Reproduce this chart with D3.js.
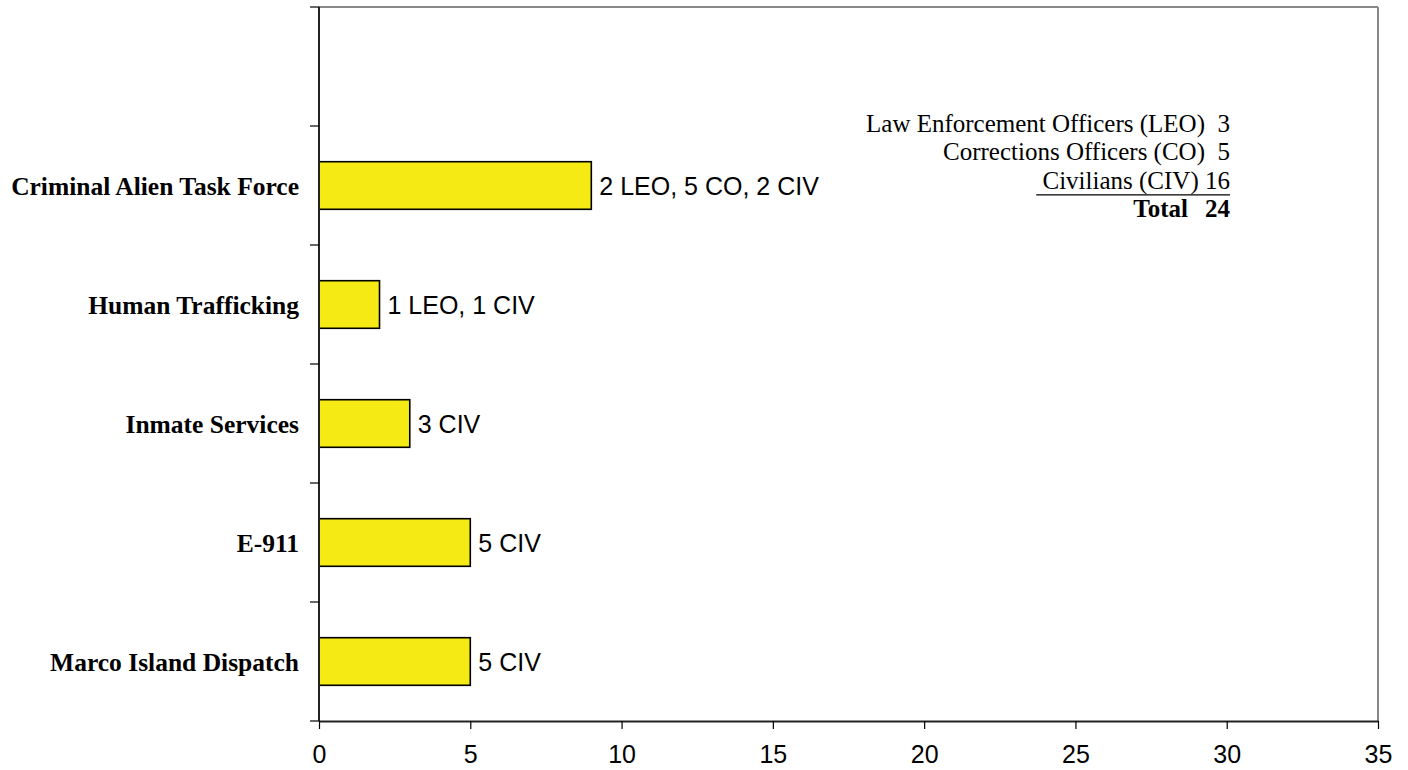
<!DOCTYPE html>
<html><head><meta charset="utf-8">
<script src="https://cdn.jsdelivr.net/npm/d3@7"></script>
<style>body{margin:0;background:#fff}svg{display:block}</style>
</head><body>
<svg id="c" width="1408" height="770"></svg>
<script>
const categories = ["Criminal Alien Task Force","Human Trafficking","Inmate Services","E-911","Marco Island Dispatch"];
const values = [9,2,3,5,5];
const barLabels = ["2 LEO, 5 CO, 2 CIV","1 LEO, 1 CIV","3 CIV","5 CIV","5 CIV"];
const xTicks = [0,5,10,15,20,25,30,35];
const legendLabels = ["Law Enforcement Officers (LEO)","Corrections Officers (CO)","Civilians (CIV)","Total"];
const legendValues = [3,5,16,24];

const svg = d3.select("#c");
const L=319, R=1378, T=7, B=721;
const x = d3.scaleLinear().domain([0,35]).range([L,R]);
const domain = ["__blank__"].concat(categories);
const y = d3.scaleBand().domain(domain).range([T,B]).paddingInner(0.6).paddingOuter(0.3);

// frame top/right
svg.append("line").attr("x1",L).attr("x2",R).attr("y1",T).attr("y2",T).attr("stroke","#888").attr("stroke-width",2);
svg.append("line").attr("x1",R).attr("x2",R).attr("y1",T).attr("y2",B).attr("stroke","#888").attr("stroke-width",2);

// bars
const data = categories.map((c,i)=>({c, v:values[i], lab:barLabels[i]}));
svg.selectAll("rect.bar").data(data).enter().append("rect")
  .attr("x",x(0)).attr("y",d=>y(d.c)).attr("width",d=>x(d.v)-x(0)).attr("height",y.bandwidth())
  .attr("fill","#F5EA14").attr("stroke","#000").attr("stroke-width",1.6);
svg.selectAll("text.bl").data(data).enter().append("text")
  .attr("x",d=>x(d.v)+8).attr("y",d=>y(d.c)+y.bandwidth()/2).attr("dy","0.36em")
  .attr("font-family","Liberation Sans, Arial, sans-serif").attr("font-size",25).attr("fill","#000")
  .text(d=>d.lab);

// category labels
svg.selectAll("text.cat").data(data).enter().append("text")
  .attr("x",299).attr("y",d=>y(d.c)+y.bandwidth()/2).attr("dy","0.36em").attr("text-anchor","end")
  .attr("font-family","Liberation Serif, Times New Roman, serif").attr("font-weight","bold").attr("font-size",25.5)
  .text(d=>d.c);

// y axis line and ticks at band boundaries
svg.append("line").attr("x1",L).attr("x2",L).attr("y1",T).attr("y2",B).attr("stroke","#222").attr("stroke-width",2);
const bounds = d3.range(domain.length+1).map(i=>T+i*(B-T)/domain.length);
svg.selectAll("line.yt").data(bounds).enter().append("line")
  .attr("x1",L-9).attr("x2",L).attr("y1",d=>d).attr("y2",d=>d).attr("stroke","#000").attr("stroke-width",1.2);

// x axis
const xa = svg.append("g").attr("transform",`translate(0,${B})`)
  .call(d3.axisBottom(x).tickValues(xTicks).tickSize(8).tickPadding(16).tickSizeOuter(0));
xa.select(".domain").attr("stroke","#222").attr("stroke-width",2);
xa.selectAll(".tick line").attr("stroke","#000").attr("stroke-width",1.2);
xa.selectAll(".tick text").attr("font-family","Liberation Sans, Arial, sans-serif").attr("font-size",25).attr("fill","#000");

// legend (summary text)
const lx = 1230, ly0 = 132, lstep = 28.4;
legendLabels.forEach((lab,i)=>{
  const yy = ly0+i*lstep;
  const t = svg.append("text").attr("x",lx).attr("y",yy).attr("text-anchor","end")
    .attr("font-family","Liberation Serif, Times New Roman, serif").attr("font-size",25).attr("fill","#000")
    .style("white-space","pre").attr("xml:space","preserve");
  if(i===3){
    t.attr("font-weight","bold").text(legendValues[i]);
    svg.append("text").attr("x",1188).attr("y",yy).attr("text-anchor","end")
      .attr("font-family","Liberation Serif, Times New Roman, serif").attr("font-size",25).attr("font-weight","bold").text(lab);
  }
  else if(i===2){
    t.text(" "+lab+" "+legendValues[i]);
    const w = t.node().getComputedTextLength();
    svg.append("line").attr("x1",lx-w).attr("x2",lx).attr("y1",yy+6).attr("y2",yy+6)
      .attr("stroke","#000").attr("stroke-width",1.3);
  }
  else { t.text(lab+"  "+legendValues[i]); }
});
</script>
</body></html>
